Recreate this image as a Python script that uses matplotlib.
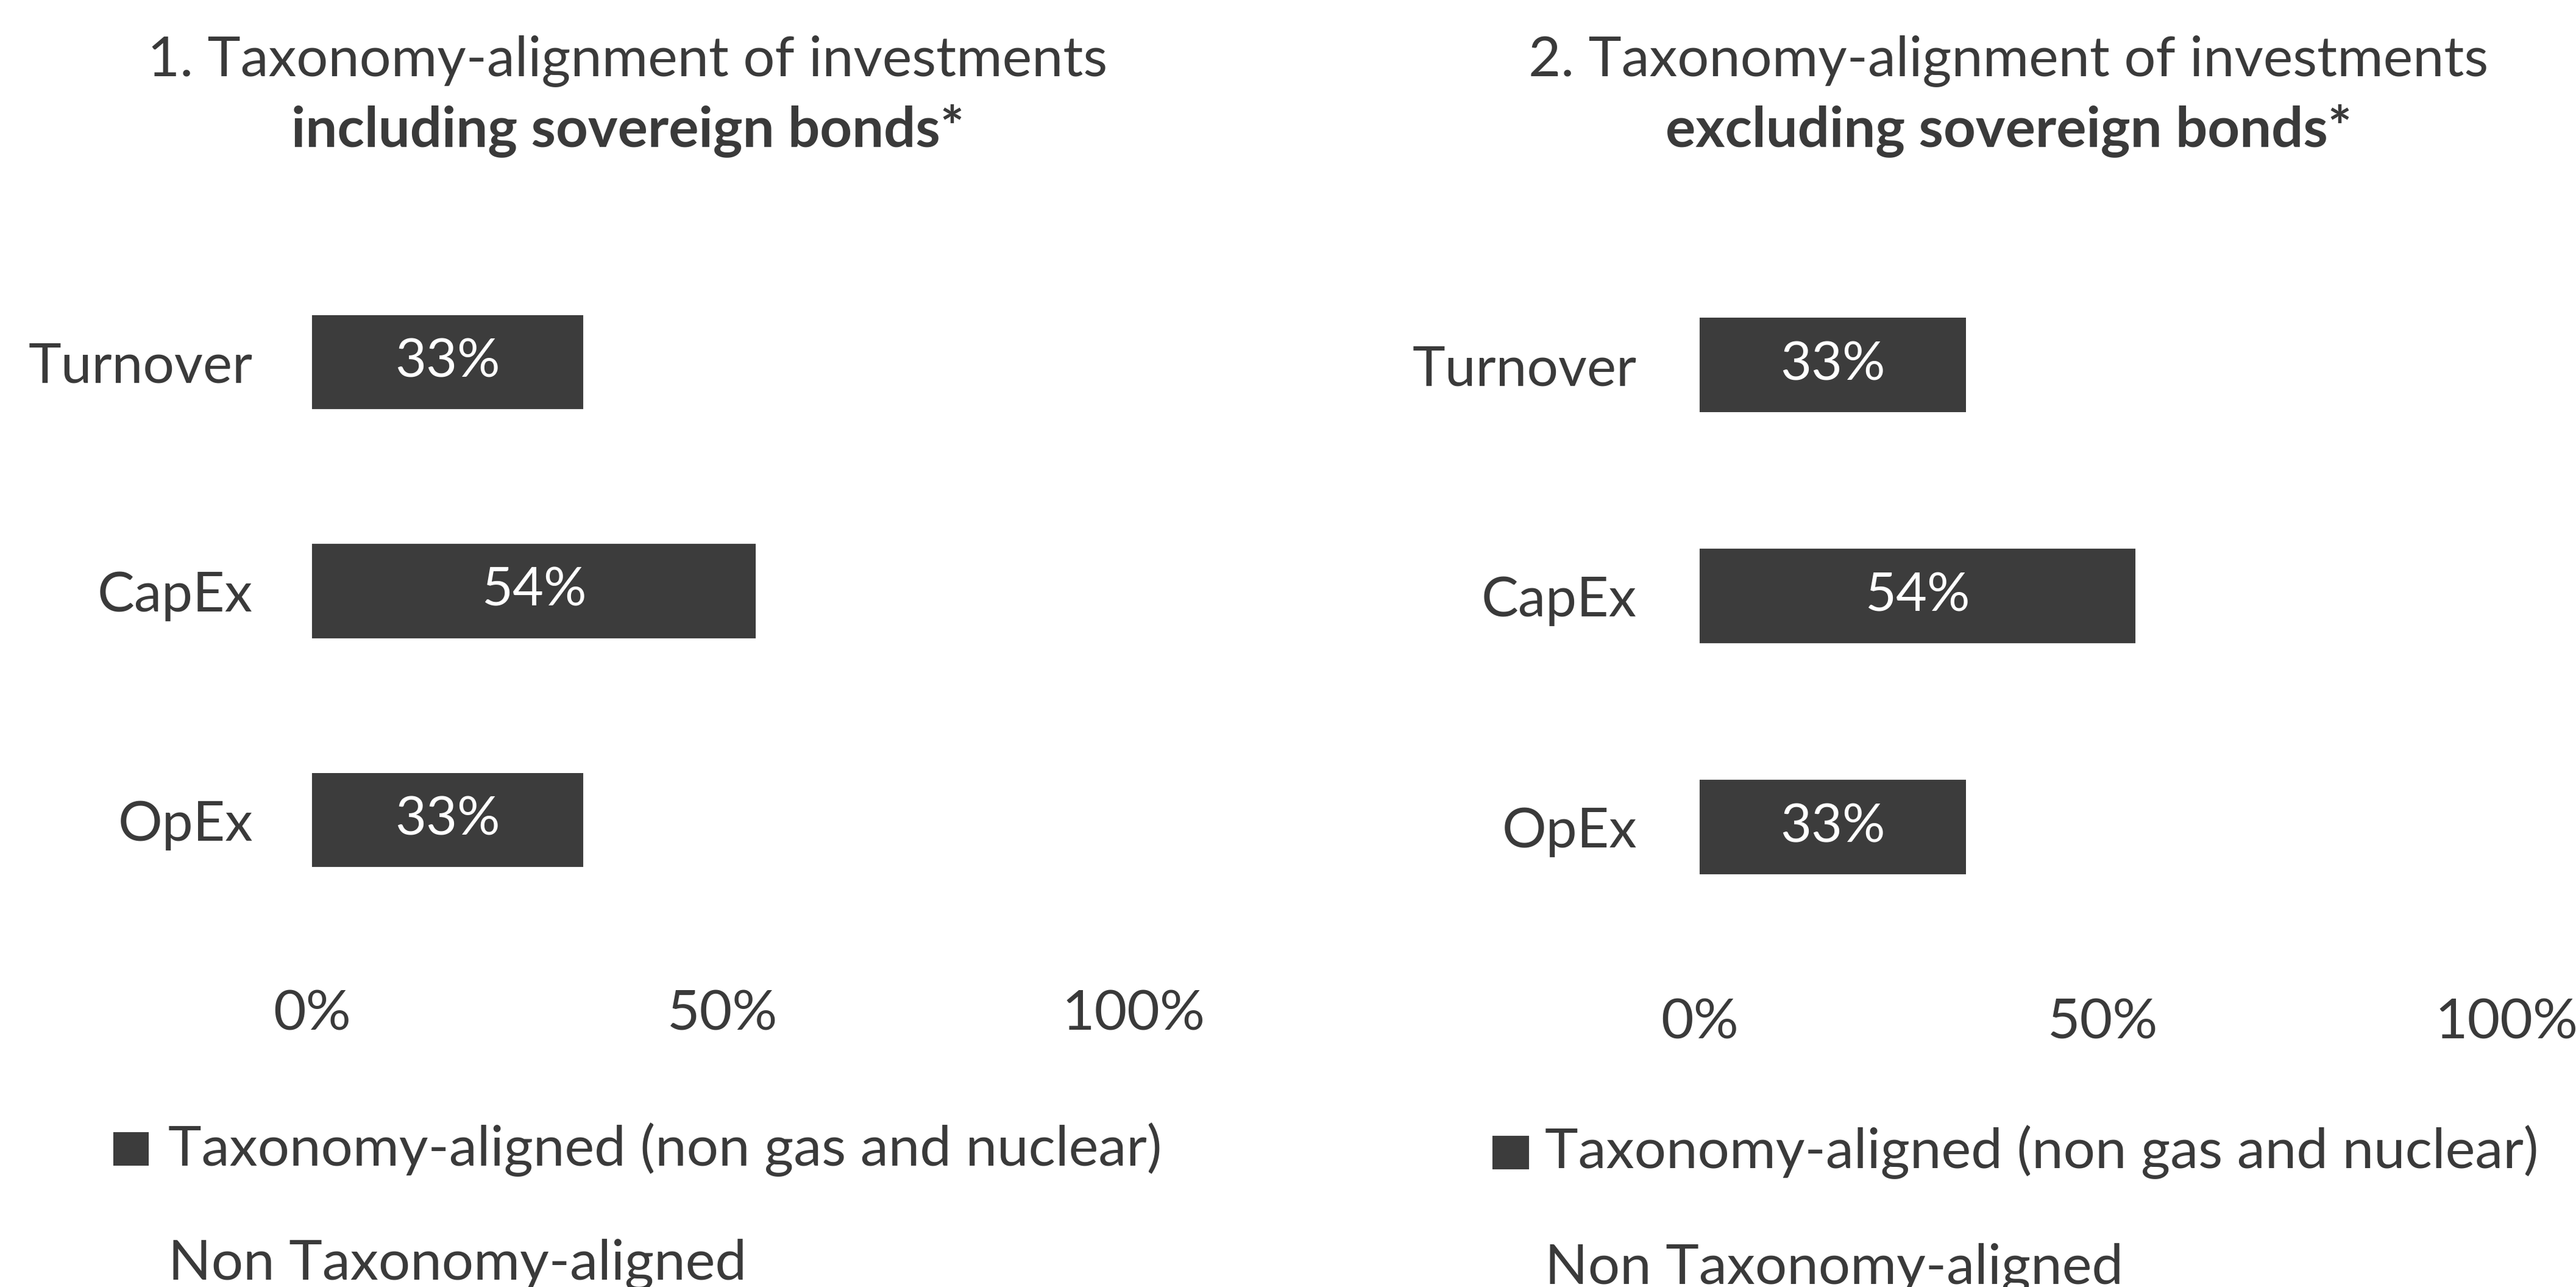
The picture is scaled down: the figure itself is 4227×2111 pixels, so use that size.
import matplotlib
matplotlib.use('Agg')
import matplotlib.pyplot as plt
from matplotlib.patches import Rectangle
from matplotlib.transforms import blended_transform_factory

# ---------------- data ----------------
categories = ['Turnover', 'CapEx', 'OpEx']
incl_values = [33, 54, 33]          # including sovereign bonds
excl_values = [33, 54, 33]          # excluding sovereign bonds
xticks = [0, 50, 100]
xtick_labels = ['0%', '50%', '100%']
titles_line1 = ['1. Taxonomy-alignment of investments',
                '2. Taxonomy-alignment of investments']
titles_line2 = ['including sovereign bonds*',
                'excluding sovereign bonds*']
legend_labels = ['Taxonomy-aligned (non gas and nuclear)',
                 'Non Taxonomy-aligned']

# ---------------- style ----------------
W, H, DPI = 4227, 2111, 100
BAR_COLOR = '#3c3c3c'
TEXT_COLOR = '#3a3a3a'
plt.rcParams['font.family'] = ['Lato', 'DejaVu Sans']

fig = plt.figure(figsize=(W / DPI, H / DPI), dpi=DPI)
fig.patch.set_facecolor('white')
renderer = fig.canvas.get_renderer()


def fit_size(text, target_px, weight='normal'):
    t = fig.text(0, 0, text, fontsize=100, weight=weight)
    w = t.get_window_extent(renderer).width
    t.remove()
    return 100.0 * target_px / w


FS = fit_size(legend_labels[0], 1632)
FS_T1 = fit_size(titles_line1[0], 1575)
FS_T2 = fit_size(titles_line2[0], 1105, weight='bold')
FS_CAT = fit_size('Turnover', 368)


def fx(px):
    return px / W


def fy(py):
    return 1 - py / H


panels = [
    dict(values=incl_values, x0=512, x1=1860, top=406, bottom=1533,
         title_x=1030, tick_base=1690, sq=(186, 244, 1857, 1912),
         leg_x=276, leg_b1=1912, leg_b2=2099, cat_gap=97),
    dict(values=excl_values, x0=2789, x1=4113, top=409, bottom=1546,
         title_x=3296, tick_base=1703, sq=(2449, 2509, 1863, 1918),
         leg_x=2535, leg_b1=1916, leg_b2=2106, cat_gap=103),
]

for i, p in enumerate(panels):
    ax = fig.add_axes([fx(p['x0']), fy(p['bottom']),
                       fx(p['x1'] - p['x0']), (p['bottom'] - p['top']) / H])
    ypos = list(range(len(categories)))
    bars = ax.barh(ypos, p['values'], height=0.41, color=BAR_COLOR,
                   edgecolor='none')
    ax.set_xlim(0, 100)
    ax.set_ylim(len(categories) - 0.5, -0.5)
    for s in ax.spines.values():
        s.set_visible(False)
    ax.set_facecolor('none')
    ax.set_yticks(ypos, labels=categories)
    ax.tick_params(axis='y', length=0, pad=p['cat_gap'] * 0.72,
                   labelsize=FS_CAT, labelcolor=TEXT_COLOR)
    ax.set_xticks([])
    ax.bar_label(bars, labels=[f'{v}%' for v in p['values']],
                 label_type='center', color='white', fontsize=FS * 0.95)

    # x tick labels (data x, figure y)
    tr = blended_transform_factory(ax.transData, fig.transFigure)
    for xv, lab in zip(xticks, xtick_labels):
        ax.text(xv, fy(p['tick_base']), lab, transform=tr, ha='center',
                va='baseline', fontsize=FS, color=TEXT_COLOR)

    # titles
    fig.text(fx(p['title_x']), fy(125), titles_line1[i], ha='center',
             va='baseline', fontsize=FS_T1, color=TEXT_COLOR)
    fig.text(fx(p['title_x']), fy(240), titles_line2[i], ha='center',
             va='baseline', fontsize=FS_T2, weight='bold', color=TEXT_COLOR)

    # legend
    x0s, x1s, y0s, y1s = p['sq']
    fig.patches.append(Rectangle((fx(x0s), fy(y1s)), fx(x1s - x0s),
                                 (y1s - y0s) / H, transform=fig.transFigure,
                                 facecolor=BAR_COLOR, edgecolor='none'))
    fig.text(fx(p['leg_x']), fy(p['leg_b1']), legend_labels[0],
             ha='left', va='baseline', fontsize=FS, color=TEXT_COLOR)
    fig.text(fx(p['leg_x']), fy(p['leg_b2']), legend_labels[1],
             ha='left', va='baseline', fontsize=FS, color=TEXT_COLOR)

fig.savefig('out.png', dpi=DPI, facecolor='white')
